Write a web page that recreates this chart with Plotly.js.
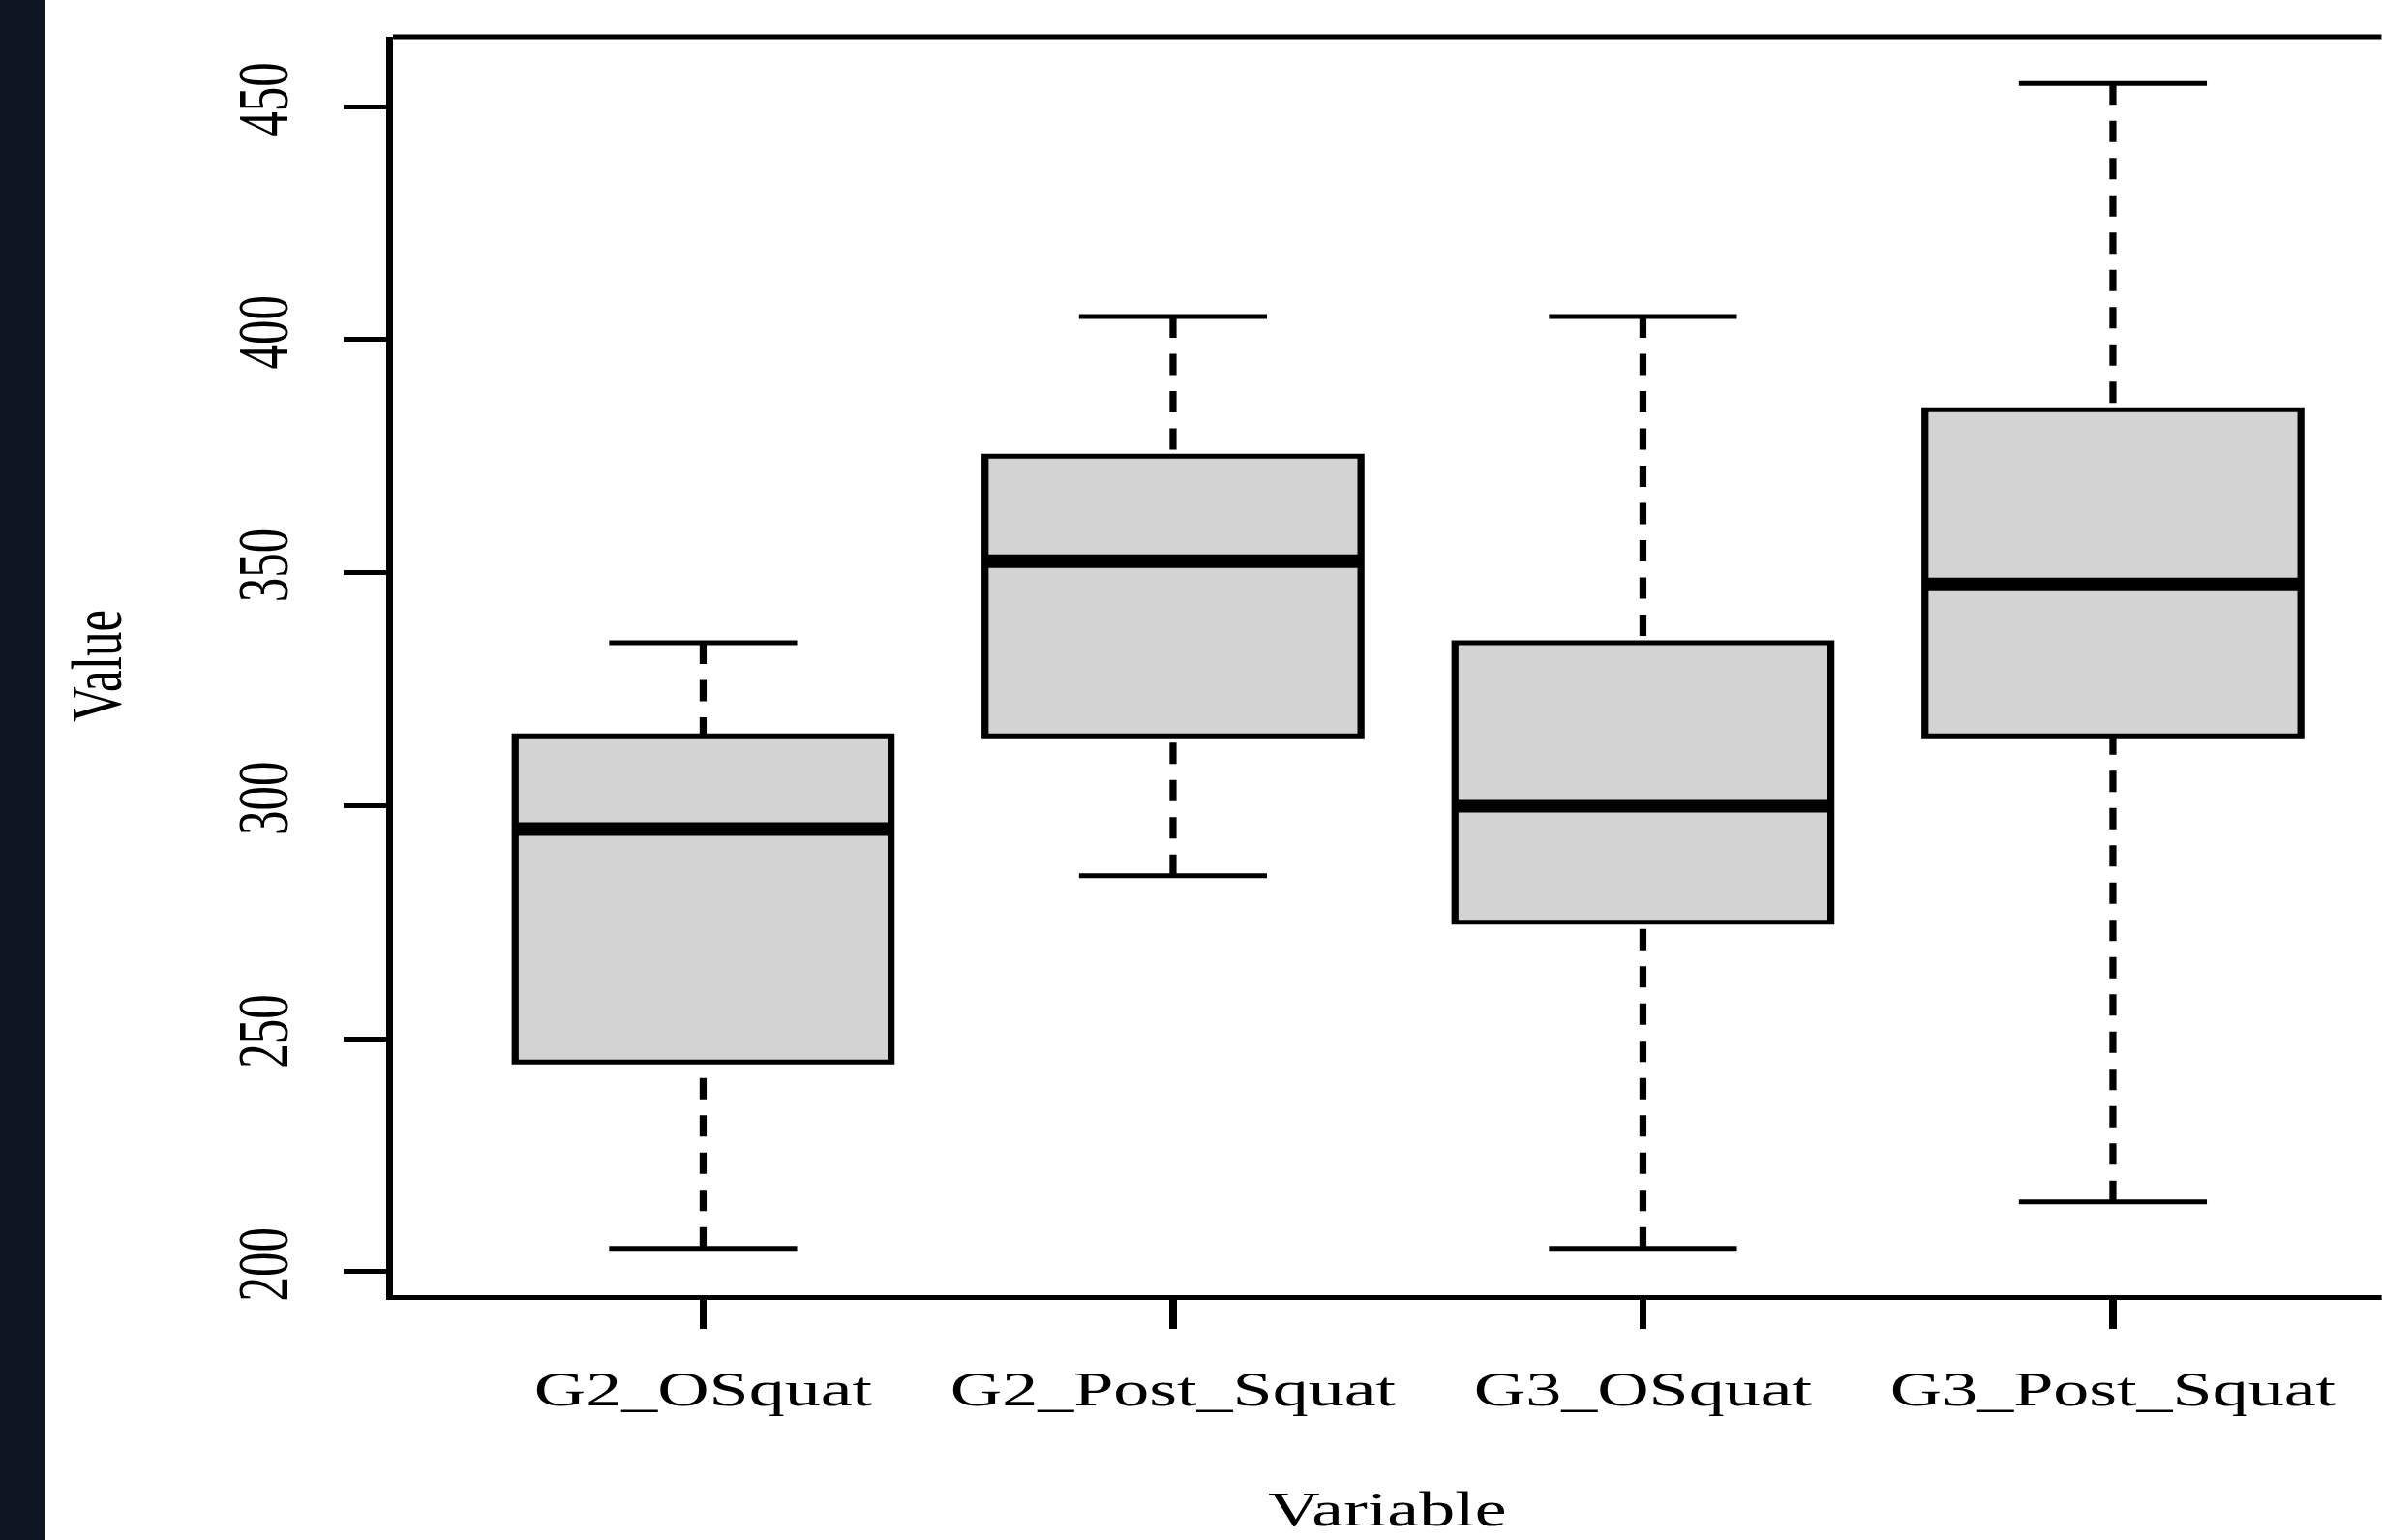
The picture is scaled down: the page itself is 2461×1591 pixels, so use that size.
<!DOCTYPE html>
<html>
<head>
<meta charset="utf-8">
<script src="https://cdn.plot.ly/plotly-3.0.1.min.js"></script>
<style>
  html, body { margin: 0; padding: 0; background: #ffffff; overflow: hidden; }
  #wrap { position: absolute; left: 0; top: 0; width: 2461px; height: 1591px; overflow: hidden; background: #ffffff; }
  #chart { position: absolute; left: 0; top: 0; width: 1697px; height: 1591px; transform: scaleX(1.45); transform-origin: 0 0; }
  #strip { position: absolute; left: 0; top: 0; width: 46px; height: 1591px; background: #0e1621; }
</style>
</head>
<body>
<div id="wrap">
  <div id="chart"></div>
  <div id="strip"></div>
</div>
<script>
// ---- data ----
const categories = ['G2_OSquat', 'G2_Post_Squat', 'G3_OSquat', 'G3_Post_Squat'];
const minVals    = [205, 285, 205, 215];
const q1Vals     = [245, 315, 275, 315];
const medianVals = [295, 352.5, 300, 347.5];
const q3Vals     = [315, 375, 335, 385];
const maxVals    = [335, 405, 405, 455];
const yTickVals  = [200, 250, 300, 350, 400, 450];
const xTitle = 'Variable';
const yTitle = 'Value';

// ---- styling ----
const FONT = 'Liberation Serif, Times New Roman, serif';
const LW = 5;
const BOX_W = 0.8;
const CAP_W = 0.4;

const positions = categories.map((c, i) => i + 1);

const traces = [];

// boxes (no whiskers: fences at the hinges; dashed whiskers drawn below)
traces.push({
  type: 'box',
  x: positions,
  q1: q1Vals,
  median: medianVals,
  q3: q3Vals,
  lowerfence: q1Vals,
  upperfence: q3Vals,
  width: BOX_W,
  fillcolor: '#d3d3d3',
  line: { color: '#000000', width: LW },
  boxpoints: false,
  hoverinfo: 'skip',
  showlegend: false
});

// dashed whiskers, drawn from the extremes toward the box
positions.forEach((p, i) => {
  [[maxVals[i], q3Vals[i]], [minVals[i], q1Vals[i]]].forEach(seg => {
    traces.push({
      type: 'scatter', mode: 'lines',
      x: [p, p], y: seg,
      line: { color: '#000000', width: LW, dash: '22px,16.5px' },
      hoverinfo: 'skip', showlegend: false
    });
  });
});

// whisker caps
const capX = [], capY = [];
positions.forEach((p, i) => {
  capX.push(p - CAP_W / 2, p + CAP_W / 2, null, p - CAP_W / 2, p + CAP_W / 2, null);
  capY.push(maxVals[i], maxVals[i], null, minVals[i], minVals[i], null);
});
traces.push({
  type: 'scatter', mode: 'lines', x: capX, y: capY,
  line: { color: '#000000', width: LW },
  hoverinfo: 'skip', showlegend: false
});

// thick median bars
const medX = [], medY = [];
positions.forEach((p, i) => {
  medX.push(p - BOX_W / 2, p + BOX_W / 2, null);
  medY.push(medianVals[i], medianVals[i], null);
});
traces.push({
  type: 'scatter', mode: 'lines', x: medX, y: medY,
  line: { color: '#000000', width: 14 },
  hoverinfo: 'skip', showlegend: false
});

const layout = {
  width: 1697,
  height: 1591,
  margin: { l: 280, r: 0, t: 38, b: 253, pad: 0 },
  paper_bgcolor: '#ffffff',
  plot_bgcolor: '#ffffff',
  showlegend: false,
  font: { family: FONT, color: '#000000', size: 50 },
  xaxis: {
    range: [0.34, 4.572],
    tickmode: 'array',
    tickvals: positions,
    ticktext: categories,
    ticks: 'outside',
    ticklen: 30,
    tickwidth: LW,
    tickcolor: '#000000',
    ticklabelstandoff: 18,
    showline: true,
    linewidth: LW,
    linecolor: '#000000',
    mirror: false,
    showgrid: false,
    zeroline: false,
    tickfont: { family: FONT, size: 51, color: '#000000' },
    title: { text: xTitle, font: { family: FONT, size: 51, color: '#000000' }, standoff: 80 },
    automargin: false
  },
  yaxis: {
    range: [195, 465],
    tickmode: 'array',
    tickvals: yTickVals,
    ticktext: yTickVals.map(String),
    tickangle: -90,
    ticks: 'outside',
    ticklen: 30,
    tickwidth: LW,
    tickcolor: '#000000',
    ticklabelstandoff: 20,
    showline: true,
    linewidth: LW,
    linecolor: '#000000',
    mirror: false,
    showgrid: false,
    zeroline: false,
    tickfont: { family: FONT, size: 51, color: '#000000' },
    title: { text: yTitle, font: { family: FONT, size: 51, color: '#000000' }, standoff: 58 },
    automargin: false
  },
  shapes: [
    { type: 'line', xref: 'paper', yref: 'paper', x0: 0, x1: 1, y0: 1, y1: 1,
      line: { color: '#000000', width: LW } }
  ]
};

Plotly.newPlot('chart', traces, layout, { staticPlot: true, displayModeBar: false });
</script>
</body>
</html>
